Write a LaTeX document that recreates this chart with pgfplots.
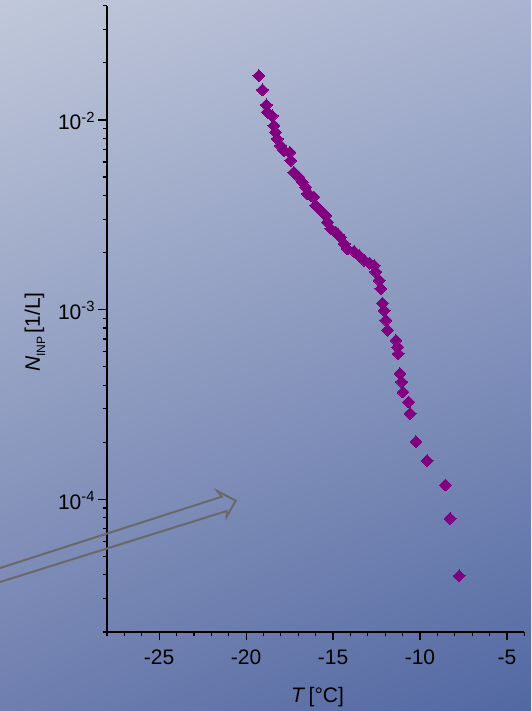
\documentclass[border=0pt]{standalone}
\usepackage{pgfplots}
\pgfplotsset{compat=1.18}
\usetikzlibrary{shadings}
\usepackage{fontspec}
\setmainfont{Liberation Sans}
\definecolor{bgTL}{RGB}{192,200,218}
\definecolor{bgTR}{RGB}{170,180,208}
\definecolor{bgBL}{RGB}{110,126,175}
\definecolor{bgBR}{RGB}{82,104,162}
\definecolor{ptpurple}{RGB}{128,0,128}
\definecolor{arrowgray}{RGB}{105,105,105}
\pgfplotstableread{
x y
-19.27 1.71e-2
-19.06 1.44e-2
-18.83 1.20e-2
-18.78 1.10e-2
-18.50 1.05e-2
-18.40 9.33e-3
-18.31 8.60e-3
-18.21 7.94e-3
-18.02 7.32e-3
-17.83 6.90e-3
-17.48 6.75e-3
-17.44 6.11e-3
-17.25 5.30e-3
-16.96 4.99e-3
-16.77 4.70e-3
-16.57 4.42e-3
-16.48 4.08e-3
-16.30 4.00e-3
-16.10 3.92e-3
-16.00 3.54e-3
-15.71 3.33e-3
-15.42 3.14e-3
-15.32 2.89e-3
-15.13 2.67e-3
-14.84 2.56e-3
-14.70 2.48e-3
-14.56 2.41e-3
-14.36 2.22e-3
-14.17 2.09e-3
-13.79 2.03e-3
-13.50 1.93e-3
-13.21 1.82e-3
-12.90 1.76e-3
-12.63 1.71e-3
-12.54 1.58e-3
-12.35 1.43e-3
-12.25 1.29e-3
-12.15 1.08e-3
-12.06 9.90e-4
-11.96 8.80e-4
-11.86 7.80e-4
-11.38 6.90e-4
-11.28 6.35e-4
-11.25 5.86e-4
-11.15 4.60e-4
-11.05 4.16e-4
-10.98 3.68e-4
-10.65 3.26e-4
-10.57 2.84e-4
-10.23 2.01e-4
-9.59 1.60e-4
-8.54 1.19e-4
-8.27 7.94e-5
-7.75 3.95e-5
}\datatable
\begin{document}
\begin{tikzpicture}[x=1pt,y=1pt]
\useasboundingbox (0,0) rectangle (531,711);
\shade[upper left=bgTL, upper right=bgTR, lower left=bgBL, lower right=bgBR] (0,0) rectangle (531,711);
\begin{axis}[
  at={(107pt,79pt)}, anchor=south west,
  scale only axis, width=417.3pt, height=626.3pt,
  xmin=-28, xmax=-4,
  ymode=log, ymin=2e-5, ymax=4e-2,
  axis lines*=left,
  axis line style={line width=1.5pt, black},
  tick align=outside,
  every tick/.style={line width=1.2pt, black},
  major tick length=8.5pt, minor tick length=4.5pt,
  xtick={-25,-20,-15,-10,-5},
  xticklabels={-25,-20,-15,-10,-5},
  minor xtick={-28,-27,...,-4},
  ytick={1e-4,1e-3,1e-2},
  yticklabels={10\textsuperscript{-4},10\textsuperscript{-3},10\textsuperscript{-2}},
  minor ytick={2e-5,3e-5,4e-5,5e-5,6e-5,7e-5,8e-5,9e-5,2e-4,3e-4,4e-4,5e-4,6e-4,7e-4,8e-4,9e-4,2e-3,3e-3,4e-3,5e-3,6e-3,7e-3,8e-3,9e-3,2e-2,3e-2,4e-2},
  tick label style={font=\fontsize{21}{25}\selectfont, black},
  xticklabel style={yshift=-6pt},
  yticklabel style={yshift=-1pt},
  clip=false,
]
\addplot[only marks, mark=square*, mark size=4.2pt, mark options={rotate=45, fill=ptpurple, draw=ptpurple, line width=0pt}] table[x=x,y=y]{\datatable};
\end{axis}
\draw[arrowgray, line width=2pt, line join=miter] (0,143) -- (221.7,214.3) -- (217.3,220) -- (235.7,210.3) -- (226.7,194.3) -- (226.7,200) -- (0,129);
\node[font=\fontsize{21}{25}\selectfont] at (317.5,14.3) {\textit{T}\,[°C]};
\node[rotate=90, font=\fontsize{21}{25}\selectfont] at (35,379) {\textit{N}\raisebox{-0.25em}{\fontsize{12}{12}\selectfont INP}\,[1/L]};
\end{tikzpicture}
\end{document}
